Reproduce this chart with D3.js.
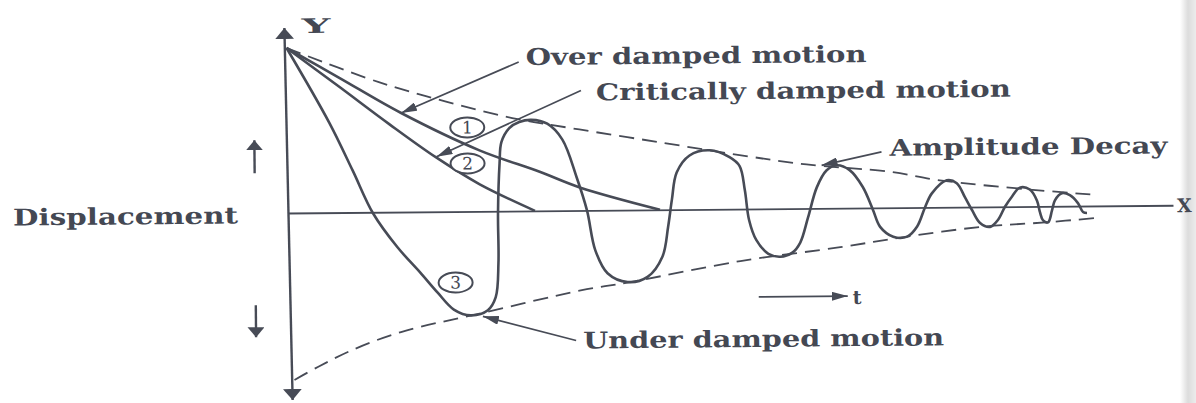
<!DOCTYPE html>
<html lang="en">
<head>
    <meta charset="UTF-8">
    <title>Damped motion</title>
    <script src="https://d3js.org/d3.v7.min.js"></script>
    <style>
        body { margin: 0; background: #fff; }
        svg { display: block; }
        text { font-family: "DejaVu Serif", serif; fill: #444853; font-weight: bold; }
    </style>
</head>
<body>
    <svg width="1196" height="403"></svg>

    <script>
        // values: t (time units), v (displacement units)
        let upperEnvelope = [[0,165],[92,130],[159,110],[225,93],[292,81],[375,67],[452,54],
            [519,44],[602,36],[652,27],[742,17],[809,11]];
        let lowerEnvelope = [[5,-167],[29,-154],[62,-138],[112,-120],[192,-102],[292,-80],[342,-72],
            [452,-52],[552,-39],[612,-30],[692,-20],[757,-16],[809,-12]];
        let overDamped = [[0,165],[52,135],[114,99],[192,61],[252,39],[292,23],[372,0]];
        let criticallyDamped = [[0,165],[52,126],[102,88],[149,54],[192,27],[247,0]];
        let underDamped = [[0,165],[42,90],[65,42],[85,-1],[109,-35],[132,-61],[149,-81],[165,-98],
            [182,-104],[199,-99],[207,-86],[210,-52],[210,-2],[212,48],[214,69],[222,83],[232,89],
            [244,91],[260,87],[275,71],[289,33],[299,0],[307,-40],[319,-63],[339,-72],[359,-67],
            [374,-47],[380,-17],[384,10],[389,37],[402,54],[422,59],[442,52],[452,43],[457,19],
            [461,-11],[468,-31],[480,-45],[492,-48],[504,-44],[512,-34],[520,-9],[529,21],[539,38],
            [549,43],[562,38],[575,21],[585,-2],[592,-19],[605,-29],[619,-29],[629,-19],[637,0],
            [644,14],[659,27],[669,24],[677,10],[684,-3],[692,-16],[702,-20],[710,-13],[717,0],
            [724,10],[732,19],[742,17],[749,6],[752,-6],[755,-14],[760,-16],[764,-4],[767,6],
            [774,13],[782,11],[790,3],[795,-6],[799,-7]];

        // annotation texts and the arrows pointing at the curves
        let notes = [
            { text: "Over damped motion", t: 239, v: 146, w: 341, from: [232,149], to: [114,99] },
            { text: "Critically damped motion", t: 309, v: 110, w: 415, from: [294,120], to: [149,55] },
            { text: "Amplitude Decay", t: 602, v: 52, w: 278, from: [594,56], to: [534,43] },
            { text: "Under damped motion", t: 294, v: -138, w: 361, from: [287,-130], to: [194,-105] }
        ];
        let circled = [ { n: "1", t: 180, v: 84 }, { n: "2", t: 180, v: 48 }, { n: "3", t: 167, v: -71 } ];

        let width = 1196, height = 403;
        let ink = "#474b56";

        let svg = d3.select("svg");

        let xScale = d3.scaleLinear().domain([0, 885]).range([288, 1173]);
        let yScale = d3.scaleLinear().domain([-170, 170]).range([383, 43]);

        // scan edge shading on the right
        let defs = svg.append("defs");
        let grad = defs.append("linearGradient").attr("id", "edge");
        grad.append("stop").attr("offset", "0%").attr("stop-color", "#fff");
        grad.append("stop").attr("offset", "50%").attr("stop-color", "#dcdcdc");
        grad.append("stop").attr("offset", "100%").attr("stop-color", "#ececec");
        svg.append("rect").attr("x", 1180).attr("y", 0).attr("width", 16).attr("height", height)
            .attr("fill", "url(#edge)");

        function marker(id, len, wid) {
            defs.append("marker")
                .attr("id", id)
                .attr("viewBox", `0 0 ${len} ${wid}`)
                .attr("refX", len).attr("refY", wid / 2)
                .attr("markerWidth", len).attr("markerHeight", wid)
                .attr("markerUnits", "userSpaceOnUse")
                .attr("orient", "auto-start-reverse")
                .append("path")
                .attr("d", `M0,0L${len},${wid / 2}L0,${wid}Z`)
                .attr("fill", ink);
        }
        marker("axisHead", 11, 19);
        marker("smallHead", 10, 17);
        marker("noteHead", 16, 9);

        // the scan is slightly turned
        let g = svg.append("g").attr("transform", `rotate(-0.5, ${xScale(0)}, ${yScale(0)})`);

        let line = d3.line()
            .x(d => xScale(d[0]))
            .y(d => yScale(d[1]))
            .curve(d3.curveCatmullRom.alpha(0.5));

        // axes
        g.append("line")
            .attr("x1", xScale(3)).attr("y1", yScale(-187))
            .attr("x2", xScale(-2)).attr("y2", yScale(185))
            .attr("stroke", ink).attr("stroke-width", 2.4)
            .attr("marker-start", "url(#axisHead)")
            .attr("marker-end", "url(#axisHead)");

        g.append("g")
            .attr("transform", `translate(0,${yScale(0)})`)
            .call(d3.axisBottom(xScale).ticks(0).tickSizeOuter(0))
            .call(a => a.select(".domain").attr("stroke", ink).attr("stroke-width", 1.8));

        // envelopes
        g.selectAll(".env")
            .data([upperEnvelope, lowerEnvelope])
            .enter().append("path")
            .attr("class", "env")
            .attr("d", line)
            .attr("fill", "none")
            .attr("stroke", ink)
            .attr("stroke-width", 1.8)
            .attr("stroke-dasharray", "15,8");

        // motions
        g.selectAll(".motion")
            .data([overDamped, criticallyDamped, underDamped])
            .enter().append("path")
            .attr("class", "motion")
            .attr("d", line)
            .attr("fill", "none")
            .attr("stroke", ink)
            .attr("stroke-width", 2.6)
            .attr("stroke-linejoin", "round");

        // circled numbers
        let c = g.selectAll(".num")
            .data(circled)
            .enter().append("g")
            .attr("class", "num")
            .attr("transform", d => `translate(${xScale(d.t)},${yScale(d.v)})`);
        c.append("ellipse").attr("rx", 17).attr("ry", 10)
            .attr("fill", "#fff").attr("stroke", ink).attr("stroke-width", 2);
        c.append("text").attr("text-anchor", "middle").attr("y", 6)
            .style("font-size", "17px").style("font-weight", "normal")
            .text(d => d.n);

        // annotation arrows and texts
        g.selectAll(".pointer")
            .data(notes)
            .enter().append("line")
            .attr("class", "pointer")
            .attr("x1", d => xScale(d.from[0])).attr("y1", d => yScale(d.from[1]))
            .attr("x2", d => xScale(d.to[0])).attr("y2", d => yScale(d.to[1]))
            .attr("stroke", ink).attr("stroke-width", 1.7)
            .attr("marker-end", "url(#noteHead)");

        g.selectAll(".note")
            .data(notes)
            .enter().append("text")
            .attr("class", "note")
            .attr("x", d => xScale(d.t))
            .attr("y", d => yScale(d.v))
            .attr("textLength", d => d.w)
            .attr("lengthAdjust", "spacingAndGlyphs")
            .style("font-size", "23px")
            .text(d => d.text);

        // axis labels
        g.append("text").attr("x", xScale(15)).attr("y", yScale(180))
            .attr("textLength", 29).attr("lengthAdjust", "spacingAndGlyphs")
            .style("font-size", "20px").text("Y");
        g.append("text").attr("x", xScale(889)).attr("y", yScale(-7))
            .style("font-size", "19px").text("X");
        g.append("text").attr("x", xScale(-275)).attr("y", yScale(-10))
            .attr("textLength", 225).attr("lengthAdjust", "spacingAndGlyphs")
            .style("font-size", "23px").text("Displacement");

        // up / down arrows beside the label
        g.append("line")
            .attr("x1", xScale(-33)).attr("y1", yScale(40))
            .attr("x2", xScale(-33)).attr("y2", yScale(73))
            .attr("stroke", ink).attr("stroke-width", 2.4)
            .attr("marker-end", "url(#smallHead)");
        g.append("line")
            .attr("x1", xScale(-33)).attr("y1", yScale(-92))
            .attr("x2", xScale(-33)).attr("y2", yScale(-124))
            .attr("stroke", ink).attr("stroke-width", 2.4)
            .attr("marker-end", "url(#smallHead)");

        // time arrow
        g.append("line")
            .attr("x1", xScale(470)).attr("y1", yScale(-88))
            .attr("x2", xScale(559)).attr("y2", yScale(-88))
            .attr("stroke", ink).attr("stroke-width", 1.8)
            .attr("marker-end", "url(#noteHead)");
        g.append("text").attr("x", xScale(564)).attr("y", yScale(-96))
            .style("font-size", "19px").text("t");
    </script>
</body>
</html>
